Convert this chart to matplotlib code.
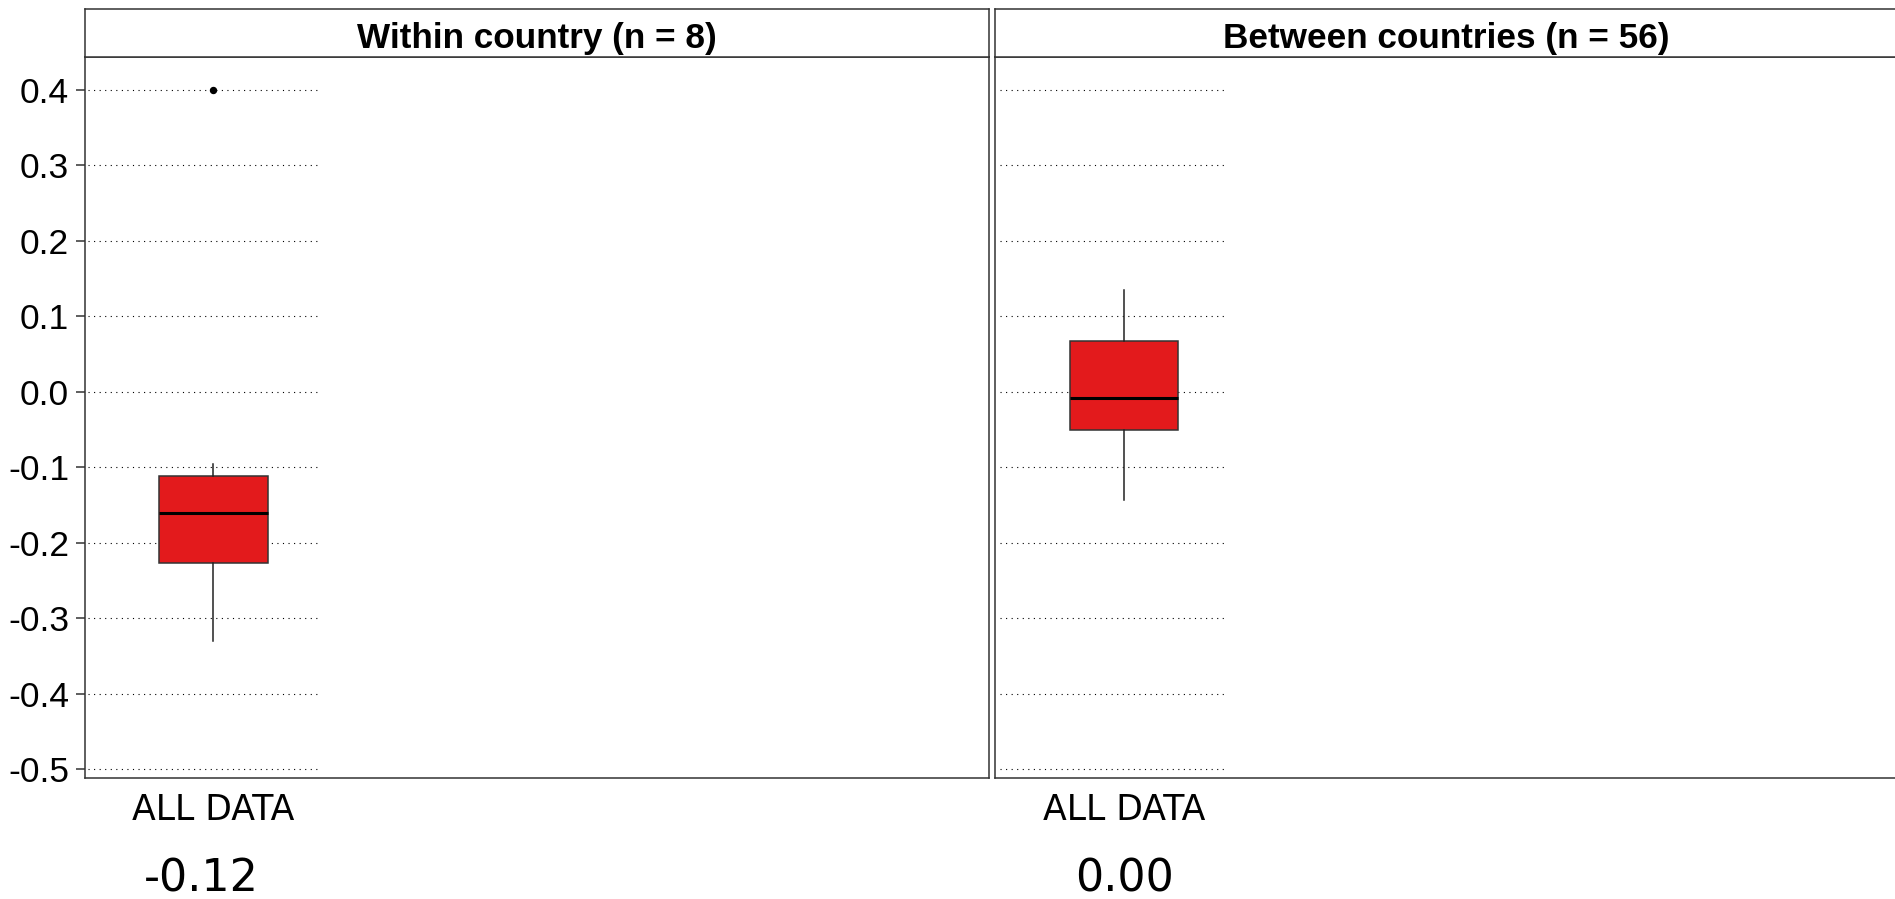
import matplotlib.pyplot as plt
from matplotlib import transforms

plt.rcParams['axes.unicode_minus'] = False

# summary statistics per facet (correlation coefficients)
panel_titles = ['Within country (n = 8)', 'Between countries (n = 56)']
category = 'ALL DATA'
whisker_low = [-0.330, -0.143]
quartile_1 = [-0.226, -0.0505]
medians = [-0.161, -0.0085]
quartile_3 = [-0.111, 0.0675]
whisker_high = [-0.0955, 0.135]
outliers = [[0.40], []]
overall_r = [-0.12, 0.00]
y_ticks = [0.4, 0.3, 0.2, 0.1, 0.0, -0.1, -0.2, -0.3, -0.4, -0.5]

W, H = 1895, 899
fig = plt.figure(figsize=(W / 100, H / 100), dpi=100)


def px_rect(x0, y0, x1, y1):
    return [x0 / W, 1 - y1 / H, (x1 - x0) / W, (y1 - y0) / H]


frame_col = '#333333'
box_red = '#E31A1C'
panel_px = [(85, 989), (995, 1898)]
xlims = [(0.0544, 6.707), (0.041, 6.73)]
label_shift = [-0.087, 0.0]

for i, (x0, x1) in enumerate(panel_px):
    ax = fig.add_axes(px_rect(x0, 57, x1, 778))
    strip = fig.add_axes(px_rect(x0, 9, x1, 57))

    # strip with facet title
    strip.set_xticks([])
    strip.set_yticks([])
    for s in strip.spines.values():
        s.set_color(frame_col)
        s.set_linewidth(1.1)
    strip.text(0.5, 0.18, panel_titles[i], transform=strip.transAxes,
               ha='center', va='baseline', fontsize=25.3, fontweight='bold',
               family='Liberation Sans', color='black')

    # dotted reference lines
    ax.hlines(y_ticks, 0.08, 1.76, colors='black', linestyles=(0, (1, 4)),
              linewidth=0.8, zorder=1)

    stats = [dict(whislo=whisker_low[i], q1=quartile_1[i], med=medians[i],
                  q3=quartile_3[i], whishi=whisker_high[i],
                  fliers=outliers[i], label=category)]
    ax.bxp(stats, positions=[1], widths=0.8, patch_artist=True,
           showcaps=False,
           boxprops=dict(facecolor=box_red, edgecolor=frame_col, linewidth=1.1),
           medianprops=dict(color='black', linewidth=2.2),
           whiskerprops=dict(color='#222222', linewidth=1.1),
           flierprops=dict(marker='o', markerfacecolor='black',
                           markeredgecolor='black', markersize=4.3))

    ax.set_xlim(*xlims[i])
    ax.set_ylim(-0.5115, 0.4437)
    ax.set_xticks([1])
    ax.set_xticklabels([category], fontsize=25, family='DejaVu Sans', color='black')
    ax.tick_params(axis='x', length=0, pad=11)

    if i == 0:
        ax.set_yticks(y_ticks)
        ax.set_yticklabels([f'{v:.1f}' for v in y_ticks], fontsize=25.5,
                           family='Liberation Sans', color='black')
        ax.tick_params(axis='y', length=6.5, width=1.1, color=frame_col, pad=5)
    else:
        ax.set_yticks([])

    for s in ax.spines.values():
        s.set_color(frame_col)
        s.set_linewidth(1.1)

    # overall correlation under each panel
    trans = transforms.blended_transform_factory(ax.transData, fig.transFigure)
    fig.text(1 + label_shift[i], 1 - 892 / H, f'{overall_r[i]:.2f}', transform=trans,
             ha='center', va='baseline', fontsize=32, family='DejaVu Sans',
             color='black')

fig.savefig('out.png', dpi=100)
